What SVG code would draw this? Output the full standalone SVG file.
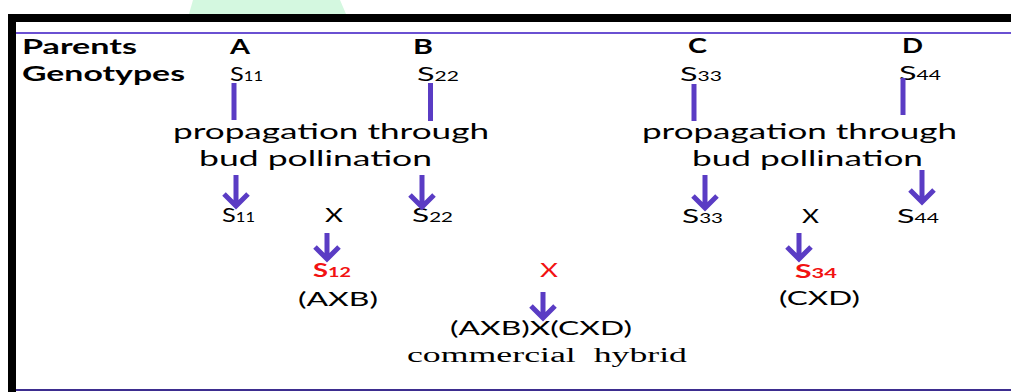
<svg xmlns="http://www.w3.org/2000/svg" width="1011" height="392" viewBox="0 0 1011 392">
<style>
.h{font-family:Lato,"Open Sans",sans-serif;font-weight:bold;font-size:20px;fill:#000}
.t{font-family:Lato,"Open Sans",sans-serif;font-size:20px;fill:#000}
.p{font-family:Lato,"Open Sans",sans-serif;font-size:22px;fill:#000}
.r{font-family:Lato,"Open Sans",sans-serif;font-weight:bold;font-size:18px;fill:#f21212}
.s{font-family:"Liberation Serif","Times New Roman",serif;font-size:20px;fill:#000;white-space:pre}
.ln{stroke:#5a3cc4;stroke-width:5;fill:none}
</style>
<rect width="1011" height="392" fill="#fff"/>
<polygon points="193,0 340,0 346,14 189,14" fill="#d4f8e0"/>
<rect x="8" y="14" width="1003" height="8" fill="#000"/>
<rect x="8" y="14" width="8" height="378" fill="#000"/>
<rect x="16" y="32" width="995" height="2" fill="#6a50d2"/>
<rect x="16" y="389" width="995" height="2" fill="#3d2d8f"/>

<g id="header">
<text class="h" x="22" y="54" textLength="115" lengthAdjust="spacingAndGlyphs">Parents</text>
<text class="h" x="22" y="81" textLength="163" lengthAdjust="spacingAndGlyphs">Genotypes</text>
</g>
<g id="parentA"><text class="h" x="230" y="54" textLength="20" lengthAdjust="spacingAndGlyphs">A</text>
<text class="t" x="230" y="81" textLength="33" lengthAdjust="spacingAndGlyphs">S<tspan font-size="13">11</tspan></text></g>
<g id="parentB"><text class="h" x="413" y="54" textLength="20" lengthAdjust="spacingAndGlyphs">B</text>
<text class="t" x="417" y="81" textLength="42" lengthAdjust="spacingAndGlyphs">S<tspan font-size="13">22</tspan></text></g>
<g id="parentC"><text class="h" x="688" y="53" textLength="19" lengthAdjust="spacingAndGlyphs">C</text>
<text class="t" x="680" y="81" textLength="42" lengthAdjust="spacingAndGlyphs">S<tspan font-size="13">33</tspan></text></g>
<g id="parentD"><text class="h" x="902" y="53" textLength="21" lengthAdjust="spacingAndGlyphs">D</text>
<text class="t" x="899" y="80" textLength="42" lengthAdjust="spacingAndGlyphs">S<tspan font-size="13">44</tspan></text></g>

<g id="propAB">
<text class="p" x="173" y="139" textLength="316" lengthAdjust="spacingAndGlyphs">propagation through</text>
<text class="p" x="199" y="166" textLength="233" lengthAdjust="spacingAndGlyphs">bud pollination</text>
</g>
<g id="propCD">
<text class="p" x="642" y="139" textLength="315" lengthAdjust="spacingAndGlyphs">propagation through</text>
<text class="p" x="692" y="166" textLength="231" lengthAdjust="spacingAndGlyphs">bud pollination</text>
</g>

<g id="row3AB">
<text class="t" x="222" y="222" textLength="33" lengthAdjust="spacingAndGlyphs">S<tspan font-size="13">11</tspan></text>
<text class="t" x="325" y="222" font-size="18" textLength="18" lengthAdjust="spacingAndGlyphs">X</text>
<text class="t" x="412" y="222" textLength="41" lengthAdjust="spacingAndGlyphs">S<tspan font-size="13">22</tspan></text>
</g>
<g id="row3CD">
<text class="t" x="682" y="223" textLength="41" lengthAdjust="spacingAndGlyphs">S<tspan font-size="13">33</tspan></text>
<text class="t" x="802" y="223" font-size="18" textLength="17" lengthAdjust="spacingAndGlyphs">X</text>
<text class="t" x="897" y="223" textLength="42" lengthAdjust="spacingAndGlyphs">S<tspan font-size="13">44</tspan></text>
</g>

<g id="hybridAB">
<text class="r" x="313" y="277" textLength="38" lengthAdjust="spacingAndGlyphs">S<tspan font-size="13">12</tspan></text>
<text class="t" x="298" y="306" font-size="18" textLength="80" lengthAdjust="spacingAndGlyphs">(AXB)</text>
</g>
<g id="hybridCD">
<text class="r" x="795" y="278" textLength="42" lengthAdjust="spacingAndGlyphs">S<tspan font-size="13">34</tspan></text>
<text class="t" x="779" y="305" font-size="18" textLength="81" lengthAdjust="spacingAndGlyphs">(CXD)</text>
</g>
<g id="cross">
<text class="t" x="540" y="277" font-size="18" style="fill:#f21212" textLength="18" lengthAdjust="spacingAndGlyphs">X</text>
</g>
<g id="commercial">
<text class="t" x="450" y="335" font-size="21" textLength="182" lengthAdjust="spacingAndGlyphs">(AXB)X(CXD)</text>
<text class="s" x="407" y="362" textLength="280" lengthAdjust="spacingAndGlyphs" xml:space="preserve">commercial  hybrid</text>
</g>

<g id="connectors" class="ln">
<path d="M234 83V120"/>
<path d="M430.5 83V121"/>
<path d="M694 84V121"/>
<path d="M903 78V115"/>
<path d="M236 175V206M224 194L236 206L248 194"/>
<path d="M422 175V207M410 195L422 207L434 195"/>
<path d="M705 175V208M693 196L705 208L717 196"/>
<path d="M922 170V202M910 190L922 202L934 190"/>
<path d="M327 233V259M315 247L327 259L339 247"/>
<path d="M799 233V259M787 247L799 259L811 247"/>
<path d="M543 292V318M531 306L543 318L555 306"/>
</g>
</svg>
